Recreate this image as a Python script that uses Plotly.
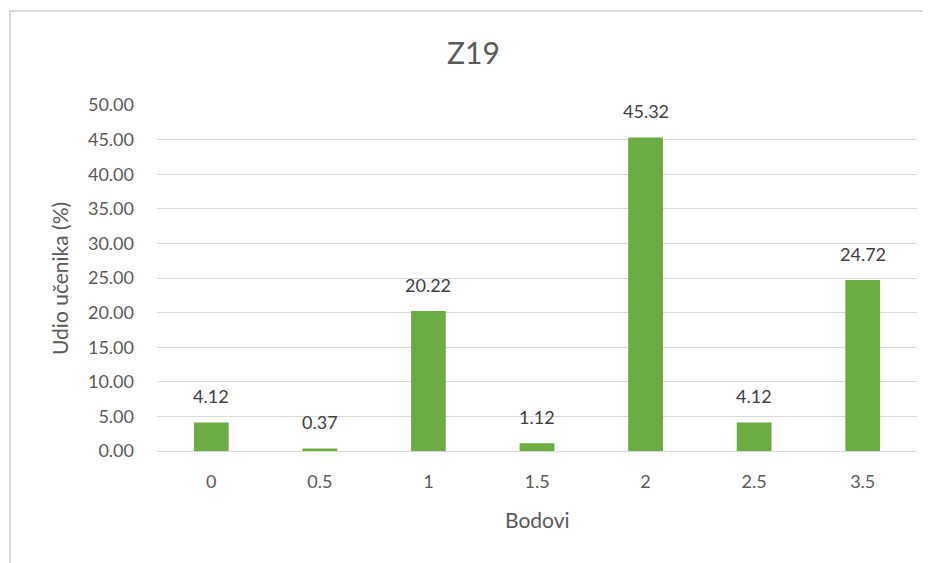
import plotly.graph_objects as go

# Bodovi (points) and share of students in %
bodovi = ["0", "0.5", "1", "1.5", "2", "2.5", "3.5"]
udio = [4.12, 0.37, 20.22, 1.12, 45.32, 4.12, 24.72]
y_ticks = [0, 5, 10, 15, 20, 25, 30, 35, 40, 45, 50]

FONT = "Lato, Calibri, sans-serif"
GRID = "#d9d9d9"
TEXT = "#595959"

fig = go.Figure(go.Bar(
    x=bodovi, y=udio,
    marker=dict(color="#6aab42", line=dict(width=0)),
    hoverinfo="x+y",
))

# value labels above the bars (category index, so "0.5" is not read as a number)
labels = [
    dict(x=i, y=v, text=f"{v:.2f}", showarrow=False, yanchor="middle", yshift=26,
         font=dict(size=18, color="#404040", family=FONT))
    for i, v in enumerate(udio)
]

fig.update_layout(
    width=931, height=563,
    paper_bgcolor="white", plot_bgcolor="white",
    margin=dict(l=149, r=22, t=97, b=120),
    bargap=0.68, showlegend=False,
    font=dict(family=FONT, color=TEXT),
    title=dict(text="Z19", x=0.5, xanchor="center", y=0.92, yanchor="middle",
               font=dict(size=30, color=TEXT, family=FONT)),
    xaxis=dict(type="category", showgrid=False, showline=True, linecolor=GRID,
               ticks="", ticklabelstandoff=14, tickfont=dict(size=18, color=TEXT)),
    yaxis=dict(range=[0, 50], tickvals=y_ticks, tickformat=".2f",
               gridcolor=GRID, zeroline=False, showline=False, ticks="",
               ticklabelstandoff=22, tickfont=dict(size=18, color=TEXT)),
    annotations=labels + [
        dict(text="Bodovi", xref="paper", yref="paper", x=0.5, y=-0.1994,
             xanchor="center", yanchor="middle", showarrow=False,
             font=dict(size=21, color=TEXT)),
        dict(text="Udio učenika (%)", xref="paper", yref="paper", x=-0.129, y=0.5,
             xanchor="center", yanchor="middle", showarrow=False, textangle=-90,
             font=dict(size=21, color=TEXT)),
    ],
    shapes=[dict(type="rect", xref="paper", yref="paper",
                 x0=-0.1934, x1=1.05, y0=-0.4, y1=1.2717,
                 line=dict(color="#d0d0d0", width=1.5), fillcolor="rgba(0,0,0,0)",
                 layer="below")],
)

fig.write_html("out.html")
